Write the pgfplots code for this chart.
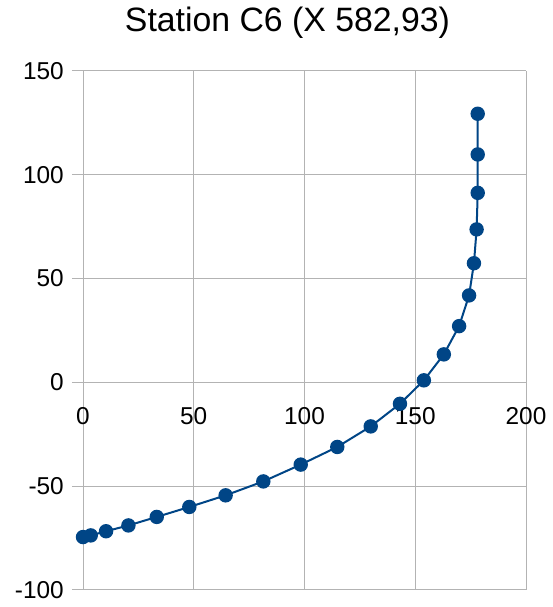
\documentclass[border=0pt]{standalone}
\usepackage{fontspec}
\setmainfont{Liberation Sans}
\usepackage{pgfplots}
\pgfplotsset{compat=1.18}
\definecolor{lineblue}{HTML}{004586}
\definecolor{gridgray}{HTML}{B3B3B3}
\begin{document}
\begin{tikzpicture}
\path[use as bounding box] (0,0) rectangle (553bp,607bp);
\begin{axis}[
  scale only axis,
  width=443bp, height=519bp,
  at={(83bp,17bp)}, anchor=south west,
  xmin=0, xmax=200, ymin=-100, ymax=150,
  xtick={0,50,100,150,200},
  ytick={-100,-50,0,50,100,150},
  yticklabels={-100,-50,0,50,100,150},
  xticklabels={0,50,100,150,200},
  axis x line=middle, axis y line=left,
  hide obscured x ticks=false, hide obscured y ticks=false,
  axis line style={-, draw=gridgray, line width=1bp},
  grid=major,
  grid style={draw=gridgray, line width=1bp},
  tick align=outside,
  major tick length=11bp,
  tick style={draw=gridgray, line width=1bp},
  tick label style={font=\fontsize{24.4bp}{28bp}\selectfont, text=black},
  xticklabel style={anchor=north, inner sep=0pt, yshift=-14bp},
  yticklabel style={anchor=east, inner sep=0pt, xshift=-8bp},
  title={Station C6 (X 582,93)},
  title style={at={(0.4616,1)}, anchor=base, inner sep=0pt, yshift=34bp,
    font=\fontsize{33.8bp}{40bp}\selectfont},
  clip=false,
]
\addplot[color=lineblue, line width=2bp, mark=*, mark size=6.2bp,
  mark options={fill=lineblue, draw=lineblue}] coordinates {
  (0,-74.5) (3.5,-73.7) (10.4,-71.7) (20.5,-68.9) (33.3,-64.8)
  (48,-60) (64.4,-54.4) (81.4,-47.7) (98.3,-39.6) (114.8,-31.1)
  (129.9,-21.2) (143.1,-10.3) (153.9,1) (162.9,13.5) (169.8,27.1)
  (174.3,41.9) (176.5,57.4) (177.7,73.7) (178.2,91.3) (178.2,109.8)
  (178.2,129.4)
};
\end{axis}
\end{tikzpicture}
\end{document}
